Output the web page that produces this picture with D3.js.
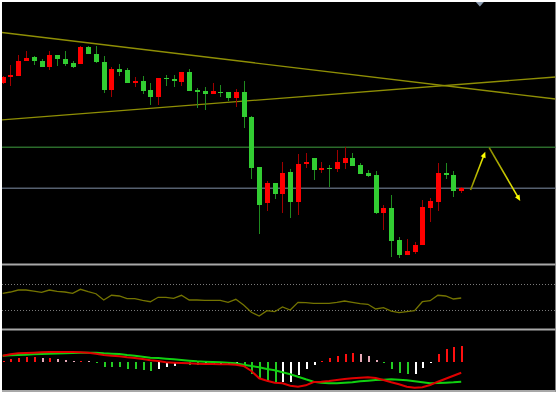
<!DOCTYPE html>
<html>
<head>
<meta charset="utf-8">
<script src="https://cdn.jsdelivr.net/npm/d3@7/dist/d3.min.js"></script>
<style>
  html, body { margin: 0; padding: 0; background: #fff; overflow: hidden; }
  svg { display: block; }
</style>
</head>
<body>
<div id="chart"></div>
<script>
/* ── price candles (one per bar, oldest first) ── */
const opens = [
  1980.7, 1986.7, 1988.3, 2003.3, 2007.3, 2003.0, 1997.3, 2009.0, 2004.7, 2000.7,
  2000.0, 2016.7, 2010.0, 2001.7, 1974.0, 1995.0, 1994.0, 1981.0, 1983.0, 1974.0,
  1967.3, 1986.3, 1984.7, 1982.3, 1992.0, 1974.0, 1973.0, 1970.3, 1972.3, 1971.7,
  1965.7, 1972.3, 1946.7, 1897.3, 1860.7, 1880.7, 1870.0, 1892.0, 1861.7, 1899.7,
  1906.3, 1894.0, 1896.3, 1895.0, 1901.0, 1905.7, 1898.7, 1890.7, 1888.7, 1851.5,
  1855.7, 1824.0, 1809.0, 1812.5, 1819.0, 1856.5, 1862.3, 1891.3, 1888.7, 1873.0
];
const highs = [
  1988.0, 1999.0, 2009.0, 2013.0, 2008.5, 2005.0, 2013.0, 2009.0, 2013.0, 2003.0,
  2018.3, 2018.0, 2018.3, 2008.0, 1997.3, 1999.7, 1996.3, 1986.7, 1988.0, 1980.7,
  1986.3, 1989.0, 1989.0, 1992.0, 1995.0, 1976.3, 1976.7, 1980.7, 1979.0, 1971.7,
  1974.7, 1983.0, 1948.0, 1897.3, 1883.3, 1880.7, 1902.3, 1894.7, 1910.0, 1911.3,
  1906.3, 1902.3, 1899.0, 1914.0, 1916.7, 1910.7, 1901.3, 1894.0, 1893.3, 1859.0,
  1869.0, 1827.0, 1824.8, 1821.8, 1864.0, 1865.7, 1900.7, 1900.7, 1893.3, 1877.3
];
const lows = [
  1980.0, 1978.3, 1988.3, 2003.3, 1999.0, 1997.3, 1994.0, 1998.0, 1998.3, 1996.3,
  2000.0, 2010.0, 2000.7, 1970.7, 1967.3, 1988.3, 1980.7, 1976.7, 1970.0, 1959.0,
  1959.0, 1978.0, 1976.7, 1978.0, 1973.3, 1956.3, 1954.0, 1970.3, 1967.3, 1963.3,
  1957.3, 1936.3, 1885.0, 1830.0, 1853.3, 1865.0, 1850.7, 1846.3, 1849.0, 1895.7,
  1884.0, 1890.7, 1877.3, 1892.3, 1894.7, 1898.3, 1890.0, 1886.7, 1849.7, 1834.0,
  1807.3, 1806.0, 1809.0, 1809.8, 1819.0, 1842.3, 1853.3, 1885.3, 1866.7, 1871.3
];
const closes = [
  1986.7, 1989.0, 2003.3, 2005.7, 2003.0, 1997.3, 2009.0, 2004.7, 2000.0, 1997.3,
  2016.7, 2010.0, 2001.7, 1974.0, 1994.7, 1992.3, 1980.7, 1983.0, 1973.3, 1967.3,
  1986.3, 1985.0, 1982.7, 1992.0, 1973.3, 1972.3, 1970.3, 1973.3, 1971.0, 1965.7,
  1972.3, 1946.7, 1896.3, 1859.0, 1880.7, 1870.0, 1891.3, 1862.0, 1900.0, 1902.3,
  1894.0, 1896.0, 1895.0, 1902.0, 1905.7, 1898.3, 1890.0, 1888.3, 1851.3, 1855.7,
  1823.3, 1808.7, 1813.0, 1819.3, 1857.0, 1863.0, 1891.3, 1889.3, 1873.0, 1875.7
];

/* ── drawn objects: [bar index, price] ── */
const resistanceLevel = 1916.7;
const trendUpper = [[0, 2031.4], [30, 2003.4]];
const trendLower = [[0, 1944.2], [30, 1962.25]];
const forecastUp = [[60.2, 1874.0], [62.1, 1912.3]];
const forecastDown = [[62.6, 1916.3], [66.6, 1863.0]];
const shiftMarkerIndex = 61.4;

/* ── RSI ── */
const rsiLevels = [70, 30];
const rsiValues = [
  56.0, 58.0, 61.1, 61.1, 59.5, 57.5, 61.1, 59.1, 58.0, 56.0,
  62.2, 58.5, 55.3, 45.6, 52.9, 51.8, 47.6, 47.6, 45.1, 42.9,
  49.8, 49.8, 48.2, 52.9, 45.6, 45.6, 45.1, 45.1, 45.1, 42.0,
  46.6, 37.8, 26.4, 20.7, 28.9, 27.4, 34.7, 30.0, 42.0, 41.4,
  40.4, 40.4, 40.4, 42.0, 44.0, 42.0, 39.8, 38.9, 31.6, 33.6,
  28.4, 25.8, 27.4, 28.9, 42.9, 44.5, 52.9, 51.8, 47.1, 48.7
];

/* ── MACD ── */
const macdMain = [
  6.0, 7.4, 8.4, 8.7, 9.0, 9.4, 9.7, 9.7, 9.7, 9.7,
  9.4, 9.0, 8.0, 6.7, 6.0, 5.4, 4.4, 3.7, 2.7, 1.4,
  0.7, -0.6, -1.0, -1.3, -1.6, -2.0, -2.3, -2.3, -2.6, -2.6,
  -3.0, -4.3, -9.3, -16.6, -19.0, -21.0, -21.6, -24.0, -25.0, -23.6,
  -20.3, -20.0, -19.3, -18.3, -17.3, -16.6, -16.0, -15.6, -16.3, -18.3,
  -20.6, -22.6, -25.0, -26.0, -25.6, -23.3, -20.0, -17.0, -14.0, -11.0
];
const macdSignal = [
  6.0, 6.4, 6.7, 7.0, 7.4, 7.7, 7.9, 8.2, 8.5, 8.7,
  9.0, 9.0, 9.0, 8.4, 8.0, 7.7, 6.7, 6.0, 5.0, 4.0,
  3.7, 3.0, 2.4, 1.7, 1.0, 0.4, 0.0, -0.3, -0.6, -1.0,
  -1.6, -3.0, -4.3, -5.6, -7.3, -8.6, -10.6, -12.6, -15.0, -17.6,
  -20.0, -21.0, -21.6, -21.6, -21.0, -20.6, -19.6, -19.0, -18.3, -18.0,
  -17.6, -18.0, -18.6, -19.6, -20.6, -21.6, -21.3, -21.0, -20.6, -20.0
];
const macdHist = [
  0.5, 2.4, 3.3, 4.3, 4.4, 3.6, 3.8, 2.7, 1.7, 0.9,
  1.0, 0.8, -1.3, -5.0, -5.4, -5.6, -7.0, -7.3, -8.0, -9.7,
  -7.0, -5.3, -4.0, -2.2, -2.8, -3.2, -3.1, -3.0, -2.9, -2.6,
  -2.4, -5.5, -12.0, -17.0, -20.5, -21.5, -20.3, -19.8, -13.3, -7.5,
  -3.5, 0.7, 3.7, 6.0, 8.0, 8.7, 7.3, 6.0, 1.3, -1.7,
  -7.0, -11.7, -12.7, -12.3, -6.3, -0.7, 7.7, 13.0, 14.7, 16.0
];

function drawChart(containerId) {
  const cfg = {
    w: 558,
    h: 394,
    left: 2,
    right: 555.5,
    top: 2,
    bottom: 392,
    mainBottom: 263.5,
    rsiTop: 265.5,
    rsiBottom: 328.5,
    macdTop: 330.5,
    macdBottom: 390.5,
    bodyWidth: 5.4,
    upColor: '#ff0000',
    upWick: '#a00000',
    downColor: '#32cd32',
    downWick: '#1f8a1f',
    trendColor: '#8f8f05',
    levelColor: '#2b6b2b',
    priceColor: '#566070',
    separatorColor: '#a8a8a8',
    rsiColor: '#747400',
    dotColor: '#7a7a7a',
  };

  const svg = d3.select(containerId)
    .append('svg')
    .attr('width', cfg.w)
    .attr('height', cfg.h);

  svg.append('rect')
    .attr('width', cfg.w).attr('height', cfg.h)
    .attr('fill', '#ffffff');
  svg.append('rect')
    .attr('x', cfg.left).attr('y', cfg.top)
    .attr('width', cfg.right - cfg.left).attr('height', cfg.bottom - cfg.top)
    .attr('fill', '#000000');

  const defs = svg.append('defs');
  const clip = (id, y0, y1) => {
    defs.append('clipPath').attr('id', id)
      .append('rect')
      .attr('x', cfg.left).attr('y', y0)
      .attr('width', cfg.right - cfg.left).attr('height', y1 - y0);
    return `url(#${id})`;
  };

  // Scales
  const x = d3.scaleLinear()
    .domain([0, closes.length - 1])
    .range([2.7, 461.2]);
  const y = d3.scaleLinear().domain([1800, 2064]).range([264, 0]);
  const yRsi = d3.scaleLinear().domain([0, 100]).range([329.3, 265]);
  const yMacd = d3.scaleLinear().domain([-30, 31]).range([391.7, 330.7]);

  const idx = d3.range(closes.length);

  // ─── Main pane ───
  const main = svg.append('g').attr('clip-path', clip('clip-main', cfg.top, cfg.mainBottom));

  // horizontal levels
  [[resistanceLevel, cfg.levelColor], [closes[closes.length - 1], cfg.priceColor]].forEach(([v, c]) => {
    main.append('line')
      .attr('x1', cfg.left).attr('x2', cfg.right)
      .attr('y1', y(v)).attr('y2', y(v))
      .attr('stroke', c)
      .attr('stroke-width', 1.4);
  });

  // trend lines, extended across the pane
  [trendUpper, trendLower].forEach(([[i0, p0], [i1, p1]]) => {
    const slope = (p1 - p0) / (i1 - i0);
    const ia = x.invert(cfg.left), ib = x.invert(cfg.right);
    main.append('line')
      .attr('x1', x(ia)).attr('y1', y(p0 + slope * (ia - i0)))
      .attr('x2', x(ib)).attr('y2', y(p0 + slope * (ib - i0)))
      .attr('stroke', cfg.trendColor)
      .attr('stroke-width', 1.3);
  });

  // candles
  idx.forEach(i => {
    const up = closes[i] >= opens[i];
    main.append('line')
      .attr('x1', Math.round(x(i)) + 0.5).attr('x2', Math.round(x(i)) + 0.5)
      .attr('y1', y(highs[i])).attr('y2', y(lows[i]))
      .attr('stroke', up ? cfg.upWick : cfg.downWick)
      .attr('stroke-width', 1)
      .attr('shape-rendering', 'crispEdges');
    const top = y(Math.max(opens[i], closes[i]));
    const bot = y(Math.min(opens[i], closes[i]));
    main.append('rect')
      .attr('x', Math.round(x(i)) - 2)
      .attr('y', top)
      .attr('width', cfg.bodyWidth)
      .attr('height', Math.max(1.5, bot - top))
      .attr('fill', up ? cfg.upColor : cfg.downColor)
      .attr('shape-rendering', 'crispEdges');
  });

  // forecast arrows
  [forecastUp, forecastDown].forEach(([[i0, p0], [i1, p1]], k) => {
    const xa = x(i0), ya = y(p0), xb = x(i1), yb = y(p1);
    const gid = 'arrow-grad-' + k;
    const grad = defs.append('linearGradient')
      .attr('id', gid)
      .attr('gradientUnits', 'userSpaceOnUse')
      .attr('x1', xa).attr('y1', ya).attr('x2', xb).attr('y2', yb);
    grad.append('stop').attr('offset', '0%').attr('stop-color', '#8a8a00');
    grad.append('stop').attr('offset', '100%').attr('stop-color', '#ffff00');

    const len = Math.hypot(xb - xa, yb - ya);
    const ux = (xb - xa) / len, uy = (yb - ya) / len;
    const hl = 6, hw = 2.6;
    main.append('line')
      .attr('x1', xa).attr('y1', ya)
      .attr('x2', xb - ux * hl * 0.6).attr('y2', yb - uy * hl * 0.6)
      .attr('stroke', `url(#${gid})`)
      .attr('stroke-width', 1.6);
    const bx = xb - ux * hl, by = yb - uy * hl;
    main.append('path')
      .attr('d', `M${xb},${yb}L${bx - uy * hw},${by + ux * hw}L${bx + uy * hw},${by - ux * hw}Z`)
      .attr('fill', '#ffff00');
  });

  // chart shift marker
  const sx = x(shiftMarkerIndex);
  svg.append('path')
    .attr('d', `M${sx - 4},${cfg.top}L${sx + 4},${cfg.top}L${sx},${cfg.top + 4.5}Z`)
    .attr('fill', '#8b9bb0');

  // ─── RSI pane ───
  const rsi = svg.append('g').attr('clip-path', clip('clip-rsi', cfg.rsiTop, cfg.rsiBottom));
  rsiLevels.forEach(v => {
    rsi.append('line')
      .attr('x1', cfg.left).attr('x2', cfg.right)
      .attr('y1', Math.round(yRsi(v)) + 0.5).attr('y2', Math.round(yRsi(v)) + 0.5)
      .attr('stroke', cfg.dotColor)
      .attr('stroke-width', 1)
      .attr('stroke-dasharray', '1,2');
  });
  rsi.append('path')
    .datum(rsiValues)
    .attr('d', d3.line().x((d, i) => x(i)).y(d => yRsi(d)))
    .attr('fill', 'none')
    .attr('stroke', cfg.rsiColor)
    .attr('stroke-width', 1.3);

  // ─── MACD pane ───
  const macd = svg.append('g').attr('clip-path', clip('clip-macd', cfg.macdTop, cfg.macdBottom));
  const histColor = (v, i) => {
    const prev = i > 0 ? macdHist[i - 1] : -Infinity;
    if (v >= 0) return v >= prev ? '#ff1010' : '#e6aab8';
    return v <= prev ? '#22cc22' : '#ffffff';
  };
  macdHist.forEach((v, i) => {
    const y0 = yMacd(0), y1 = yMacd(v);
    macd.append('rect')
      .attr('x', Math.round(x(i)) - 0.5)
      .attr('y', Math.min(y0, y1))
      .attr('width', 2)
      .attr('height', Math.max(1, Math.abs(y1 - y0)))
      .attr('fill', histColor(v, i))
      .attr('shape-rendering', 'crispEdges');
  });
  [[macdSignal, '#10d010'], [macdMain, '#e00000']].forEach(([vals, c]) => {
    macd.append('path')
      .datum(vals)
      .attr('d', d3.line().x((d, i) => x(i)).y(d => yMacd(d)))
      .attr('fill', 'none')
      .attr('stroke', c)
      .attr('stroke-width', 2);
  });

  // pane separators
  [cfg.mainBottom + 1, cfg.rsiBottom + 1, cfg.macdBottom + 0.5].forEach(v => {
    svg.append('line')
      .attr('x1', cfg.left).attr('x2', cfg.right)
      .attr('y1', v).attr('y2', v)
      .attr('stroke', cfg.separatorColor)
      .attr('stroke-width', 2);
  });
}

drawChart('#chart');
</script>
</body>
</html>
